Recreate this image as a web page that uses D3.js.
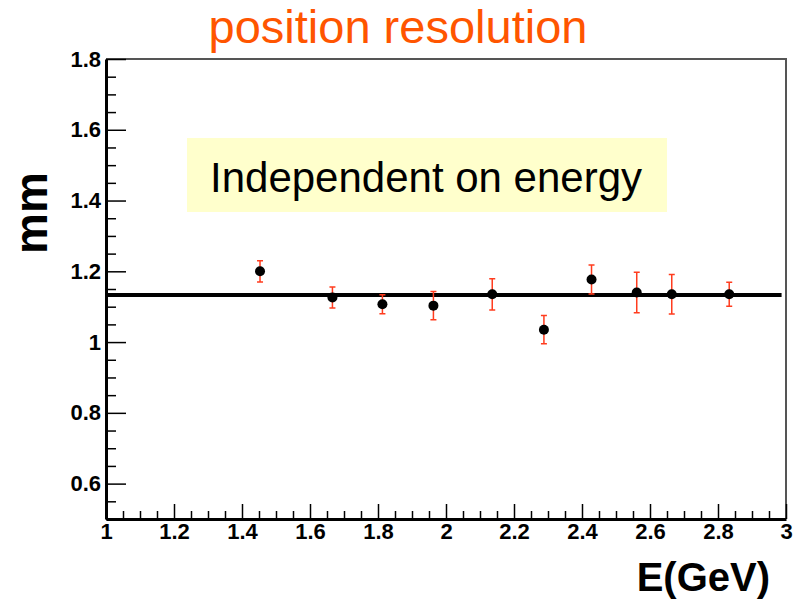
<!DOCTYPE html>
<html>
<head>
<meta charset="utf-8">
<script src="https://cdn.jsdelivr.net/npm/d3@7"></script>
<style>
  body { margin: 0; background: #fff; }
  svg { display: block; font-family: "Liberation Sans", Arial, sans-serif; }
</style>
</head>
<body>
<div id="chart"></div>
<script>
// measured points (E in GeV, resolution in mm)
var energy = [1.453, 1.666, 1.813, 1.963, 2.136, 2.288, 2.428, 2.561, 2.664, 2.833];
var resolution = [1.200, 1.126, 1.107, 1.103, 1.135, 1.035, 1.177, 1.140, 1.135, 1.135];
var errors = [0.030, 0.030, 0.027, 0.040, 0.044, 0.040, 0.041, 0.057, 0.056, 0.034];
var fitValue = 1.133;
var fitRange = [1, 2.987];
var xTicks = [1, 1.2, 1.4, 1.6, 1.8, 2, 2.2, 2.4, 2.6, 2.8, 3];
var yTicks = [0.6, 0.8, 1, 1.2, 1.4, 1.6, 1.8];

(function(){
var width = 796, height = 601;
var padL = 106, padR = 786, padT = 59, padB = 519;

var svg = d3.select("#chart").append("svg")
    .attr("width", width)
    .attr("height", height);

var x = d3.scaleLinear().domain([1, 3]).range([padL, padR]);
var y = d3.scaleLinear().domain([0.5, 1.8]).range([padB, padT]);

var fmt = function(d){ return String(+d.toFixed(1)); };

var minorX = d3.range(1, 3.0001, 0.05).filter(function(v){
  return Math.abs(v * 5 - Math.round(v * 5)) > 1e-6;
});
var minorY = d3.range(0.5, 1.8001, 0.05).filter(function(v){
  return Math.abs(v * 5 - Math.round(v * 5)) > 1e-6;
});

// frame: top and right
svg.append("path")
    .attr("d", "M" + padL + "," + padT + "H" + padR + "V" + padB)
    .attr("fill", "none")
    .attr("stroke", "#555")
    .attr("stroke-width", 2);

// x axis
var gx = svg.append("g")
    .attr("transform", "translate(0," + padB + ")")
    .call(d3.axisBottom(x).tickValues(xTicks).tickFormat(fmt).tickSizeInner(-15).tickSizeOuter(0).tickPadding(4));
svg.append("g")
    .attr("transform", "translate(0," + padB + ")")
    .call(d3.axisBottom(x).tickValues(minorX).tickFormat("").tickSizeInner(-8).tickSizeOuter(0))
    .select(".domain").remove();

// y axis
var gy = svg.append("g")
    .attr("transform", "translate(" + padL + ",0)")
    .call(d3.axisLeft(y).tickValues(yTicks).tickFormat(fmt).tickSizeInner(-20).tickSizeOuter(0).tickPadding(5));
svg.append("g")
    .attr("transform", "translate(" + padL + ",0)")
    .call(d3.axisLeft(y).tickValues(minorY).tickFormat("").tickSizeInner(-10).tickSizeOuter(0))
    .select(".domain").remove();

svg.selectAll(".tick line").attr("stroke", "#000").attr("stroke-width", 1.5);
gx.select(".domain").attr("stroke", "#000").attr("stroke-width", 3);
gy.select(".domain").attr("stroke", "#000").attr("stroke-width", 3);
svg.selectAll(".tick text")
    .attr("font-family", "'Liberation Sans', Arial, sans-serif")
    .attr("font-size", 22)
    .attr("font-weight", "bold")
    .attr("fill", "#000");
gx.selectAll(".tick text").attr("dy", "0.72em");

// fit line
svg.append("line")
    .attr("x1", x(fitRange[0]))
    .attr("x2", x(fitRange[1]))
    .attr("y1", y(fitValue))
    .attr("y2", y(fitValue))
    .attr("stroke", "#000")
    .attr("stroke-width", 4);

// error bars
var pts = energy.map(function(e, i){ return {e: e, r: resolution[i], err: errors[i]}; });
var eb = svg.append("g")
    .attr("stroke", "#ff3c1e")
    .attr("stroke-width", 1.5)
    .attr("fill", "none");
eb.selectAll("path").data(pts).enter().append("path")
    .attr("d", function(d){
      var cx = x(d.e), y1 = y(d.r + d.err), y2 = y(d.r - d.err);
      return "M" + cx + "," + y1 + "V" + y2 +
             "M" + (cx - 3) + "," + y1 + "H" + (cx + 3) +
             "M" + (cx - 3) + "," + y2 + "H" + (cx + 3);
    });

// points
svg.append("g").selectAll("circle").data(pts).enter().append("circle")
    .attr("cx", function(d){ return x(d.e); })
    .attr("cy", function(d){ return y(d.r); })
    .attr("r", 5)
    .attr("fill", "#000");

// annotation box
svg.append("rect")
    .attr("x", 187).attr("y", 138)
    .attr("width", 480).attr("height", 74)
    .attr("fill", "#ffffcc");
svg.append("text")
    .attr("x", 210).attr("y", 192)
    .attr("font-size", 42)
    .attr("fill", "#000")
    .text("Independent on energy");

// title
svg.append("text")
    .attr("x", 398).attr("y", 43)
    .attr("text-anchor", "middle")
    .attr("font-size", 47)
    .attr("fill", "#ff5500")
    .text("position resolution");

// axis titles
svg.append("text")
    .attr("x", 770).attr("y", 591)
    .attr("text-anchor", "end")
    .attr("font-size", 40)
    .attr("font-weight", "bold")
    .attr("fill", "#000")
    .text("E(GeV)");
svg.append("text")
    .attr("transform", "translate(47,213) rotate(-90)")
    .attr("text-anchor", "middle")
    .attr("font-size", 46)
    .attr("font-weight", "bold")
    .attr("fill", "#000")
    .text("mm");
})();
</script>
</body>
</html>
